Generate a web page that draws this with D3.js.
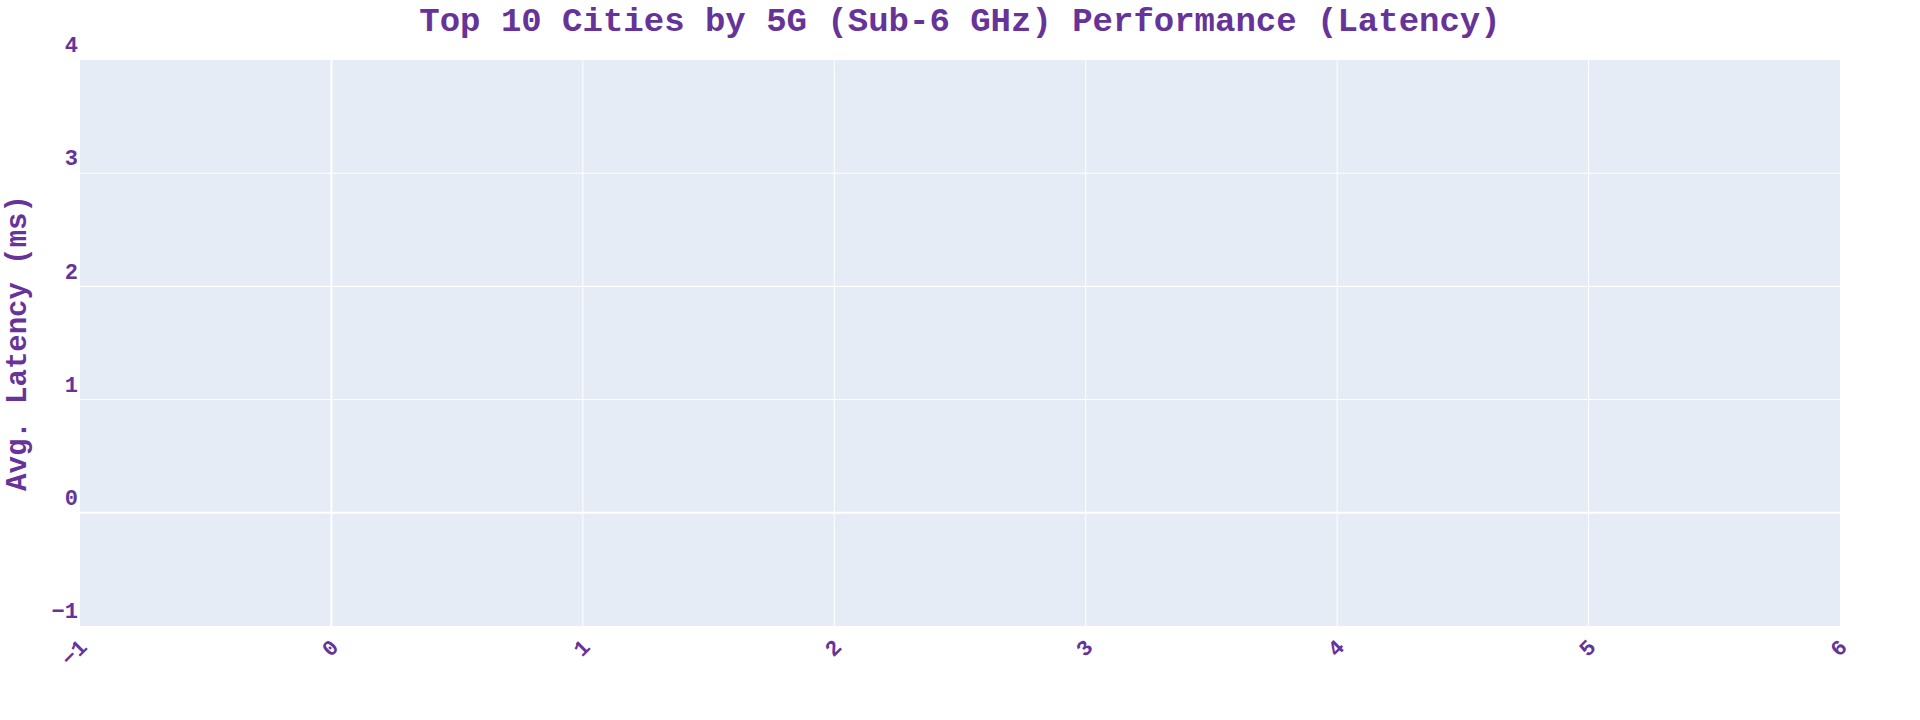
<!DOCTYPE html>
<html>
<head>
<meta charset="utf-8">
<script src="https://cdn.jsdelivr.net/npm/d3@7"></script>
<style>
  html, body { margin: 0; padding: 0; background: #fff; }
  svg text { font-family: "Courier New", "Liberation Mono", monospace; font-weight: bold; fill: #663399; }
</style>
</head>
<body>
<svg id="chart" width="1920" height="720"></svg>
<script>
// Data (the reference chart contains no data points)
const cities = [];
const latency = [];
const xTickValues = [-1, 0, 1, 2, 3, 4, 5, 6];
const yTickValues = [-1, 0, 1, 2, 3, 4];
const xDomain = [-1, 6];
const yDomain = [-1, 4];
const titleText = "Top 10 Cities by 5G (Sub-6 GHz) Performance (Latency)";
const yTitleText = "Avg. Latency (ms)";

const W = 1920, H = 720;
const margin = { left: 80, right: 80, top: 60, bottom: 94 };
const pw = W - margin.left - margin.right;
const ph = H - margin.top - margin.bottom;

const svg = d3.select("#chart");
const g = svg.append("g").attr("transform", `translate(${margin.left},${margin.top})`);

const x = d3.scaleLinear().domain(xDomain).range([0, pw]);
const y = d3.scaleLinear().domain(yDomain).range([ph, 0]);

g.append("rect").attr("width", pw).attr("height", ph).attr("fill", "#E5ECF6");

// gridlines
g.append("g").selectAll("line").data(xTickValues.filter(v => v !== xDomain[0] && v !== xDomain[1]))
  .join("line")
  .attr("x1", d => x(d)).attr("x2", d => x(d))
  .attr("y1", 0).attr("y2", ph)
  .attr("stroke", "#fff").attr("stroke-width", d => d === 0 ? 2 : 1);

g.append("g").selectAll("line").data(yTickValues.filter(v => v !== yDomain[0] && v !== yDomain[1]))
  .join("line")
  .attr("x1", 0).attr("x2", pw)
  .attr("y1", d => y(d)).attr("y2", d => y(d))
  .attr("stroke", "#fff").attr("stroke-width", d => d === 0 ? 2 : 1);

// bars (none in reference)
g.append("g").selectAll("rect").data(cities.map((c, i) => ({ c, v: latency[i], i })))
  .join("rect")
  .attr("x", d => x(d.i) - 20).attr("width", 40)
  .attr("y", d => y(Math.max(0, d.v))).attr("height", d => Math.abs(y(d.v) - y(0)))
  .attr("fill", "#663399");

// y tick labels
const yAxis = d3.axisLeft(y).tickValues(yTickValues).tickSize(0).tickPadding(2).tickFormat(d => d < 0 ? "\u2212" + Math.abs(d) : d);
const yg = g.append("g").call(yAxis);
yg.select(".domain").remove();
yg.selectAll("text")
  .attr("dy", "-0.38em")
  .style("font-size", "22px")
  .attr("fill", "#663399");

// x tick labels
const xg = g.append("g").attr("transform", `translate(0,${ph})`);
xg.selectAll("text").data(xTickValues).join("text")
  .attr("transform", d => `translate(${x(d) + 3},${17}) rotate(-45)`)
  .attr("text-anchor", "end")
  .attr("dy", "0.35em")
  .style("font-size", "22px")
  .text(d => d < 0 ? "\u2212" + Math.abs(d) : d);

// title
svg.append("text")
  .attr("x", W / 2).attr("y", 31)
  .attr("text-anchor", "middle")
  .style("font-size", "34px")
  .text(titleText);

// y axis title
svg.append("text")
  .attr("transform", `translate(26,${margin.top + ph / 2}) rotate(-90)`)
  .attr("text-anchor", "middle")
  .style("font-size", "29px")
  .text(yTitleText);
</script>
</body>
</html>
